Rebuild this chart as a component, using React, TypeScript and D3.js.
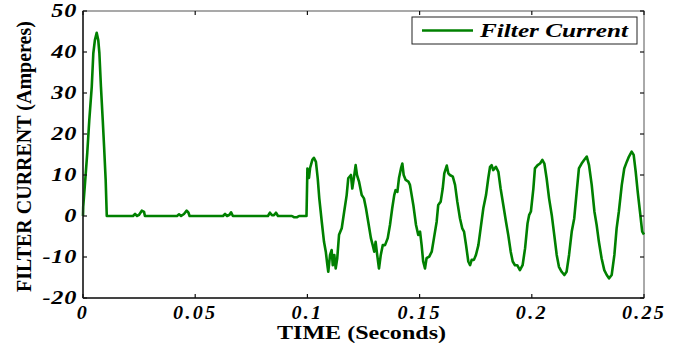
import React, { useRef, useEffect } from 'react';
import * as d3 from 'd3';

// filter current trace (time in s, current in A)
const timeS = [
  0, 0.0001, 0.0009, 0.0019, 0.0028, 0.0039, 0.0046, 0.0053, 0.0061, 0.0068, 0.0073, 0.008, 0.0088, 0.0094, 0.0101, 0.0106,
  0.0223, 0.0232, 0.0241, 0.025, 0.0262, 0.0272, 0.0276,
  0.0419, 0.0428, 0.0437, 0.045, 0.0462, 0.047, 0.0475,
  0.0624, 0.0633, 0.0642, 0.0653, 0.066, 0.0668,
  0.0824, 0.0833, 0.0842, 0.0851, 0.086, 0.0869,
  0.0931, 0.094, 0.0954, 0.0963, 0.0996, 0.1,
  0.1007, 0.1012, 0.1022, 0.1029, 0.1038, 0.1046, 0.1053, 0.1064, 0.1074, 0.1082, 0.1089, 0.1093, 0.1101, 0.1108, 0.1113,
  0.112, 0.1126, 0.1133, 0.1141, 0.1153, 0.1164, 0.1175, 0.1182, 0.1194, 0.12, 0.1208, 0.1215, 0.1221, 0.123, 0.1242,
  0.1252, 0.1261, 0.1271, 0.1283, 0.1291, 0.1298, 0.1304, 0.1311, 0.1319, 0.1327, 0.1336, 0.1346, 0.1358, 0.1368, 0.1378,
  0.1387, 0.1393, 0.1401, 0.1408, 0.1417, 0.1423, 0.1429, 0.1438, 0.145, 0.1457, 0.1472, 0.1484, 0.1494, 0.1502, 0.1509,
  0.1516, 0.1524, 0.1531, 0.1543, 0.1554, 0.1564, 0.1576, 0.1583, 0.1594, 0.1603, 0.161, 0.1621, 0.1628, 0.1635, 0.1648,
  0.1658, 0.1668, 0.168, 0.169, 0.1698, 0.1707, 0.1717, 0.1725, 0.1732, 0.1742, 0.1751, 0.1762, 0.1772, 0.1784, 0.1796,
  0.1806, 0.1814, 0.1821, 0.1828, 0.184, 0.1851, 0.1861, 0.1873, 0.1885, 0.1895, 0.1906, 0.1915, 0.1925, 0.1935, 0.1947,
  0.1959, 0.197, 0.1981, 0.1988, 0.1996, 0.2007, 0.2014, 0.2026, 0.2037, 0.2047, 0.2056, 0.2066, 0.2077, 0.2089, 0.21,
  0.2111, 0.2121, 0.2133, 0.2145, 0.2155, 0.2166, 0.2178, 0.2189, 0.22, 0.221, 0.2222, 0.2234, 0.2245, 0.2255, 0.2267,
  0.2279, 0.2289, 0.2299, 0.2311, 0.2323, 0.2334, 0.2344, 0.2356, 0.2368, 0.2378, 0.2388, 0.2401, 0.2412, 0.2423, 0.2433,
  0.2445, 0.2454, 0.2463, 0.2472, 0.2482, 0.2492, 0.25,
];
const currentA = [
  0, 2.3, 8, 15.4, 23.4, 31.5, 39.7, 42.9, 44.7, 42.9, 39.7, 31.5, 23.4, 16.9, 8.8, 0,
  0, 0.5, 0, 0.3, 1.3, 1.0, 0,
  0, 0.4, 0, 0.5, 1.3, 0.8, 0,
  0, 0.5, 0, 0.3, 0.9, 0,
  0, 0.8, 0.2, 0.2, 0.8, 0,
  0, -0.3, -0.3, 0, 0, 11.6,
  9.3, 11.7, 13.7, 14.2, 13.2, 9.2, 4.3, -1.4, -6.3, -8.7, -12, -13.6, -9.5, -8.3, -12,
  -9.5, -12.8, -10.3, -4.6, -3, 1.1, 5.1, 9.2, 10, 6.7, 9.6, 12.4, 10, 8.4, 5.1,
  4.3, 1.9, -1.4, -5.4, -7.1, -8.7, -6.3, -9.5, -12.8, -9.5, -7.1, -7.1, -5.4, -2.2, 1.9,
  5.1, 6.3, 5.9, 9.2, 11.6, 12.8, 10, 8.8, 8.4, 7.6, 2.7, -2.2, -4.6, -3.8, -7.1,
  -11.1, -12.8, -10.3, -9.9, -8.7, -5.4, -1.4, 2.7, 3.5, 6.7, 10.4, 12.3, 10.4, 10, 9.6,
  7.6, 3.5, -0.6, -3, -3.8, -7.1, -11.1, -12, -10.7, -10.7, -9.5, -7.1, -3, 1.9, 5.1,
  9.2, 12, 12.4, 11.2, 12, 10.8, 6.7, 2.7, -1.4, -4.6, -8.7, -11.1, -12, -12, -13.2,
  -12, -7.9, -1.8, 0.2, 1.1, 6.7, 11.6, 12.4, 12.8, 13.7, 12.8, 9.2, 4.3, 0.2, -4.6,
  -9.5, -12.4, -13.6, -14.4, -13.6, -9.5, -3.8, -0.6, 5.9, 11.6, 12.8, 13.7, 14.5, 12.4, 7.6,
  1.1, -2.2, -6.3, -10.3, -13.2, -14.4, -15.2, -14.4, -9.5, -3, 1.1, 7.6, 11.6, 13.2, 14.5,
  15.7, 14.9, 10.8, 5.9, 1.1, -3.8, -4.5,
];
const xTicks = [0, 0.05, 0.1, 0.15, 0.2, 0.25];
const xTickLabels = ['0', '0.05', '0.1', '0.15', '0.2', '0.25'];
const yTicks = [-20, -10, 0, 10, 20, 30, 40, 50];
const seriesName = 'Filter Current';

const GREEN = '#008000';
const SERIF = '"Liberation Serif", "Times New Roman", serif';

export default function App() {
  const svgRef = useRef<SVGSVGElement | null>(null);

  useEffect(() => {
    if (!svgRef.current) return;
    const svg = d3.select(svgRef.current);
    svg.selectAll('*').remove();

    const W = 683, H = 344;
    const margin = { top: 11, right: 39, bottom: 46, left: 83 };
    const x = d3.scaleLinear().domain([0, 0.25]).range([margin.left, W - margin.right]);
    const y = d3.scaleLinear().domain([-20, 50]).range([H - margin.bottom, margin.top]);

    const x0 = x.range()[0], x1 = x.range()[1];
    const y0 = y.range()[0], y1 = y.range()[1];

    // frame
    svg.append('rect')
      .attr('x', x0).attr('y', y1)
      .attr('width', x1 - x0).attr('height', y0 - y1)
      .attr('fill', 'none').attr('stroke', '#555').attr('stroke-width', 1);

    // trace
    const pts = timeS.map((t, i) => [t, currentA[i]] as [number, number]);
    const line = d3.line<[number, number]>().x(d => x(d[0])).y(d => y(d[1]));
    svg.append('path')
      .datum(pts)
      .attr('d', line)
      .attr('fill', 'none')
      .attr('stroke', GREEN)
      .attr('stroke-width', 2.6)
      .attr('stroke-linejoin', 'round');

    // axes lines (left / bottom darker)
    svg.append('line').attr('x1', x0).attr('x2', x0).attr('y1', y1).attr('y2', y0)
      .attr('stroke', '#222').attr('stroke-width', 1.5);
    svg.append('line').attr('x1', x0).attr('x2', x1).attr('y1', y0).attr('y2', y0)
      .attr('stroke', '#222').attr('stroke-width', 1.5);

    // inward ticks on all sides
    const tl = 4;
    const ticks = svg.append('g').attr('stroke', '#111').attr('stroke-width', 1.2);
    xTicks.forEach(t => {
      ticks.append('line').attr('x1', x(t)).attr('x2', x(t)).attr('y1', y0).attr('y2', y0 - tl);
      ticks.append('line').attr('x1', x(t)).attr('x2', x(t)).attr('y1', y1).attr('y2', y1 + tl);
    });
    yTicks.forEach(v => {
      ticks.append('line').attr('x1', x0).attr('x2', x0 + tl).attr('y1', y(v)).attr('y2', y(v));
      ticks.append('line').attr('x1', x1).attr('x2', x1 - tl).attr('y1', y(v)).attr('y2', y(v));
    });

    // tick labels (the source figure is stretched horizontally)
    svg.append('g').selectAll('text').data(yTicks).enter().append('text')
      .attr('transform', d => `translate(${x0 - 6}, ${y(d)}) scale(1.35, 1)`)
      .attr('dy', '0.35em')
      .attr('text-anchor', 'end')
      .style('font-family', SERIF).style('font-weight', 'bold').style('font-style', 'italic')
      .style('font-size', '18px').style('letter-spacing', '0.5px')
      .text(d => String(d));

    svg.append('g').selectAll('text').data(xTicks).enter().append('text')
      .attr('transform', d => `translate(${x(d)}, ${y0 + 21}) scale(1.12, 1)`)
      .attr('text-anchor', 'middle')
      .style('font-family', SERIF).style('font-weight', 'bold').style('font-style', 'italic')
      .style('font-size', '18px').style('letter-spacing', '2px')
      .text((d, i) => xTickLabels[i]);

    // axis titles
    svg.append('text')
      .attr('x', 277).attr('y', 339)
      .attr('textLength', 169).attr('lengthAdjust', 'spacingAndGlyphs')
      .style('font-family', SERIF).style('font-weight', 'bold').style('font-size', '19px')
      .text('TIME (Seconds)');

    svg.append('text')
      .attr('transform', `translate(31, ${(y0 + y1) / 2 + 2}) rotate(-90)`)
      .attr('text-anchor', 'middle')
      .style('font-family', SERIF).style('font-weight', 'bold').style('font-size', '20px')
      .text('FILTER CURRENT (Amperes)');

    // legend
    const lg = svg.append('g');
    lg.append('rect').attr('x', 412).attr('y', 17).attr('width', 225).attr('height', 27)
      .attr('fill', '#fff').attr('stroke', '#222').attr('stroke-width', 1);
    lg.append('line').attr('x1', 422).attr('x2', 473).attr('y1', 30.5).attr('y2', 30.5)
      .attr('stroke', GREEN).attr('stroke-width', 2.6);
    lg.append('text').attr('x', 480).attr('y', 37)
      .attr('textLength', 148).attr('lengthAdjust', 'spacingAndGlyphs')
      .style('font-family', SERIF).style('font-weight', 'bold').style('font-style', 'italic')
      .style('font-size', '18px')
      .text(seriesName);
  }, []);

  return (
    <div style={{ position: 'absolute', left: 0, top: 0, width: 683, height: 344, background: '#fff' }}>
      <svg ref={svgRef} width={683} height={344}></svg>
    </div>
  );
}
